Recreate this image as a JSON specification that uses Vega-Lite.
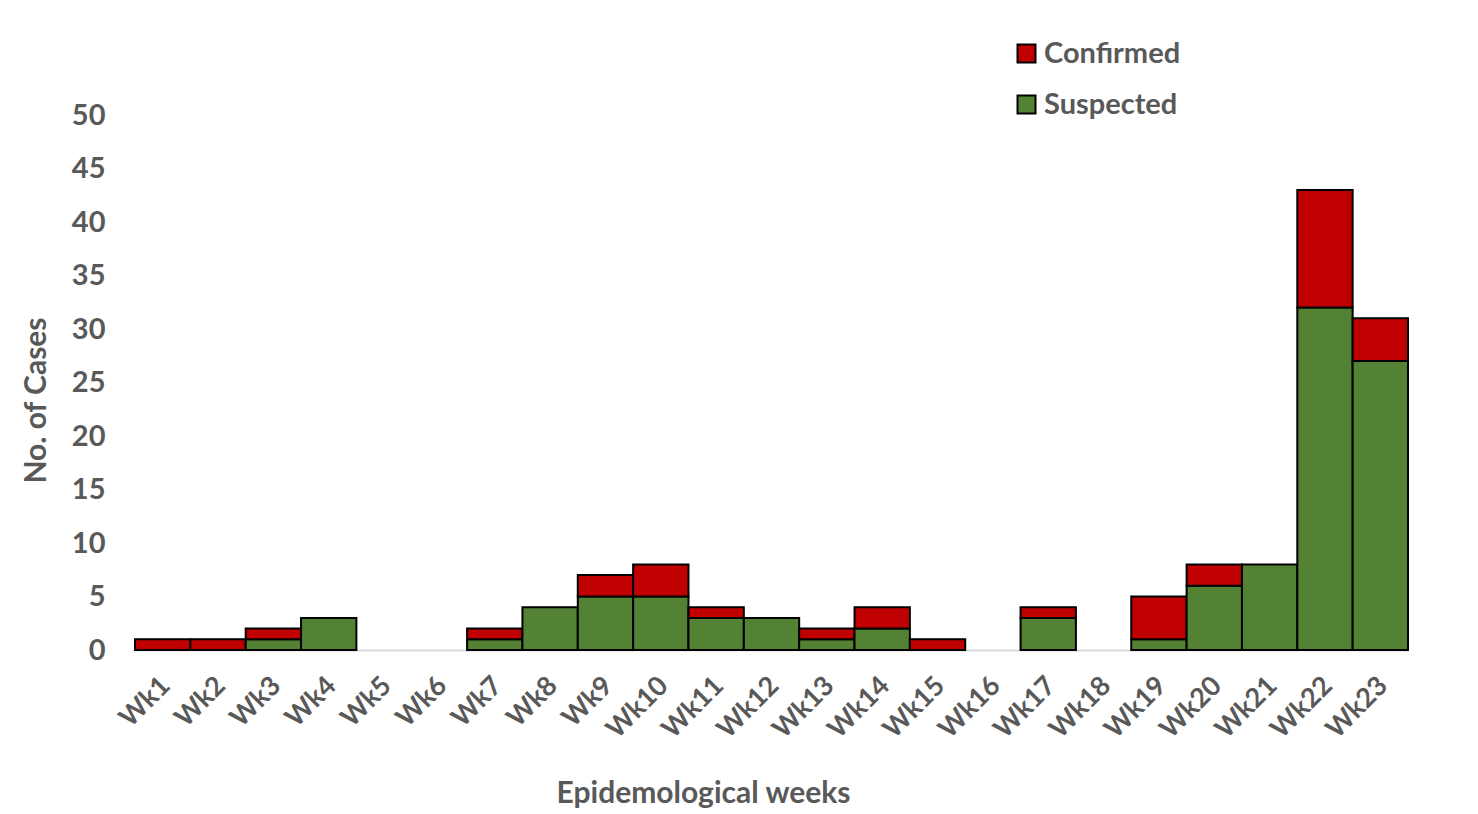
{
  "$schema": "https://vega.github.io/schema/vega-lite/v6.json",
  "autosize": {"type": "none"},
  "padding": {"left": 135, "top": 115, "right": 70, "bottom": 164},
  "width": 1273,
  "height": 535,
  "background": "white",
  "config": {
    "view": {"stroke": null},
    "font": "Lato",
    "axis": {"labelFont": "Lato", "titleFont": "Lato", "labelColor": "#595959", "titleColor": "#595959", "labelFontWeight": "bold", "titleFontWeight": "bold"},
    "legend": {"labelFont": "Lato", "labelColor": "#595959", "labelFontWeight": "bold"}
  },
  "data": {
    "values": [
      {"week": "Wk1", "type": "Suspected", "cases": 0}, {"week": "Wk1", "type": "Confirmed", "cases": 1},
      {"week": "Wk2", "type": "Suspected", "cases": 0}, {"week": "Wk2", "type": "Confirmed", "cases": 1},
      {"week": "Wk3", "type": "Suspected", "cases": 1}, {"week": "Wk3", "type": "Confirmed", "cases": 1},
      {"week": "Wk4", "type": "Suspected", "cases": 3}, {"week": "Wk4", "type": "Confirmed", "cases": 0},
      {"week": "Wk5", "type": "Suspected", "cases": 0}, {"week": "Wk5", "type": "Confirmed", "cases": 0},
      {"week": "Wk6", "type": "Suspected", "cases": 0}, {"week": "Wk6", "type": "Confirmed", "cases": 0},
      {"week": "Wk7", "type": "Suspected", "cases": 1}, {"week": "Wk7", "type": "Confirmed", "cases": 1},
      {"week": "Wk8", "type": "Suspected", "cases": 4}, {"week": "Wk8", "type": "Confirmed", "cases": 0},
      {"week": "Wk9", "type": "Suspected", "cases": 5}, {"week": "Wk9", "type": "Confirmed", "cases": 2},
      {"week": "Wk10", "type": "Suspected", "cases": 5}, {"week": "Wk10", "type": "Confirmed", "cases": 3},
      {"week": "Wk11", "type": "Suspected", "cases": 3}, {"week": "Wk11", "type": "Confirmed", "cases": 1},
      {"week": "Wk12", "type": "Suspected", "cases": 3}, {"week": "Wk12", "type": "Confirmed", "cases": 0},
      {"week": "Wk13", "type": "Suspected", "cases": 1}, {"week": "Wk13", "type": "Confirmed", "cases": 1},
      {"week": "Wk14", "type": "Suspected", "cases": 2}, {"week": "Wk14", "type": "Confirmed", "cases": 2},
      {"week": "Wk15", "type": "Suspected", "cases": 0}, {"week": "Wk15", "type": "Confirmed", "cases": 1},
      {"week": "Wk16", "type": "Suspected", "cases": 0}, {"week": "Wk16", "type": "Confirmed", "cases": 0},
      {"week": "Wk17", "type": "Suspected", "cases": 3}, {"week": "Wk17", "type": "Confirmed", "cases": 1},
      {"week": "Wk18", "type": "Suspected", "cases": 0}, {"week": "Wk18", "type": "Confirmed", "cases": 0},
      {"week": "Wk19", "type": "Suspected", "cases": 1}, {"week": "Wk19", "type": "Confirmed", "cases": 4},
      {"week": "Wk20", "type": "Suspected", "cases": 6}, {"week": "Wk20", "type": "Confirmed", "cases": 2},
      {"week": "Wk21", "type": "Suspected", "cases": 8}, {"week": "Wk21", "type": "Confirmed", "cases": 0},
      {"week": "Wk22", "type": "Suspected", "cases": 32}, {"week": "Wk22", "type": "Confirmed", "cases": 11},
      {"week": "Wk23", "type": "Suspected", "cases": 27}, {"week": "Wk23", "type": "Confirmed", "cases": 4}
    ]
  },
  "transform": [{"filter": "datum.cases > 0"}],
  "mark": {"type": "bar", "stroke": "black", "strokeWidth": 2},
  "encoding": {
    "x": {
      "field": "week",
      "type": "ordinal",
      "sort": null,
      "scale": {
        "domain": ["Wk1","Wk2","Wk3","Wk4","Wk5","Wk6","Wk7","Wk8","Wk9","Wk10","Wk11","Wk12","Wk13","Wk14","Wk15","Wk16","Wk17","Wk18","Wk19","Wk20","Wk21","Wk22","Wk23"],
        "paddingInner": 0,
        "paddingOuter": 0
      },
      "axis": {
        "title": "Epidemological weeks",
        "titleFontSize": 30,
        "titleX": 568,
        "titleY": 143,
        "titleBaseline": "middle",
        "labelAngle": -45,
        "labelFontSize": 27,
        "labelPadding": 22,
        "labelOffset": -6,
        "ticks": false,
        "domainColor": "#d9d9d9",
        "domainWidth": 2
      }
    },
    "y": {
      "field": "cases",
      "type": "quantitative",
      "aggregate": "sum",
      "stack": "zero",
      "scale": {"domain": [0, 50], "nice": false},
      "axis": {
        "title": "No. of Cases",
        "titleFontSize": 30,
        "titleX": -84,
        "titleY": 285,
        "titleAnchor": "middle",
        "values": [0,5,10,15,20,25,30,35,40,45,50],
        "labelFontSize": 29,
        "labelPadding": 30,
        "ticks": false,
        "domain": false,
        "grid": false
      }
    },
    "color": {
      "field": "type",
      "type": "nominal",
      "scale": {"domain": ["Confirmed", "Suspected"], "range": ["#C00000", "#548235"]},
      "legend": {
        "title": null,
        "orient": "none",
        "legendX": 877,
        "legendY": -76,
        "symbolType": "square",
        "symbolSize": 324,
        "symbolStrokeColor": "black",
        "symbolStrokeWidth": 2,
        "symbolOpacity": 1,
        "labelFontSize": 29,
        "labelOffset": 3,
        "rowPadding": 21
      }
    },
    "order": {"field": "type", "sort": "descending"}
  }
}
